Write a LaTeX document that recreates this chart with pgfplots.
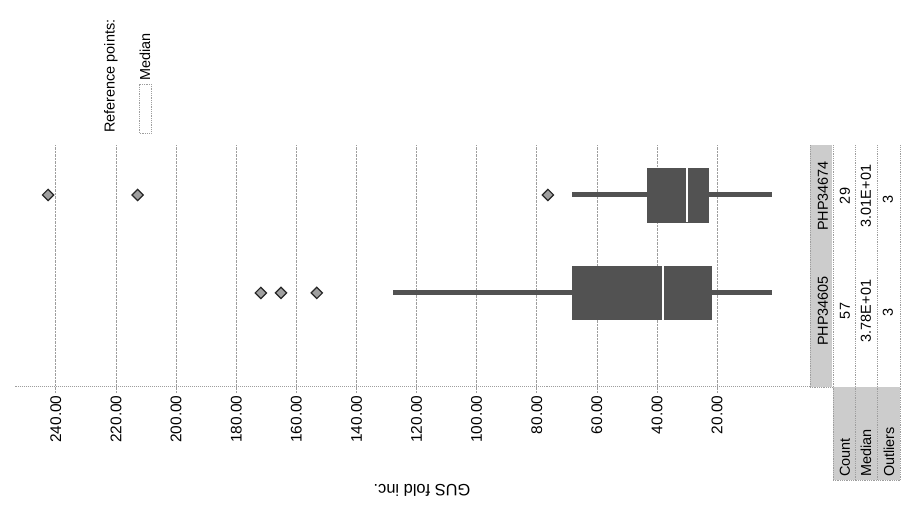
\documentclass[border=0pt]{standalone}
\usepackage{fontspec}
\setmainfont{Liberation Sans}
\usepackage{pgfplots}
\pgfplotsset{compat=1.18}
\usepgfplotslibrary{statistics}
\definecolor{boxc}{gray}{0.32}
\definecolor{gridc}{gray}{0.62}
\definecolor{shadec}{gray}{0.80}
\begin{document}
\begin{tikzpicture}[x=1bp,y=1bp,font=\fontsize{14.5}{17}\selectfont]
\path[use as bounding box] (0,0) rectangle (902,529);
\begin{axis}[
  at={(15bp,142bp)}, anchor=south west,
  scale only axis, width=795bp, height=242bp,
  x dir=reverse, xmin=-10.9, xmax=253.6,
  ymin=0.04, ymax=2.51,
  axis x line*=bottom, axis y line=none, ytick=\empty,
  axis line style={gridc, densely dotted, line width=1bp},
  xtick={20,40,...,240},
  tick align=outside, major tick length=5bp,
  tick style={gridc, densely dotted, line width=0.8bp},
  xmajorgrids, grid style={gridc, densely dotted, line width=0.8bp},
  xticklabel style={rotate=90, anchor=east, font=\fontsize{15.5}{18}\selectfont},
  /pgf/number format/.cd, fixed, fixed zerofill, precision=2, 1000 sep={}, assume math mode=true,
  /pgfplots/.cd,
  xlabel={GUS fold inc.},
  xlabel style={rotate=180, at={(axis description cs:0.512,-0.426)}, anchor=center, font=\fontsize{16.5}{19}\selectfont},
  boxplot/whisker extend=0,
  boxplot/every box/.style={draw=boxc, fill=boxc, line width=0.8bp},
  boxplot/every whisker/.style={draw=boxc, line width=5bp},
  boxplot/every median/.style={draw=white, line width=1.4bp},
  clip=false,
]
% PHP34674 (position 2)
\addplot[boxplot prepared={lower whisker=1.7, lower quartile=23.0, median=30.0,
  upper quartile=43.3, upper whisker=68.3, draw position=2, box extend=0.55}]
  coordinates {};
% PHP34605 (position 1)
\addplot[boxplot prepared={lower whisker=1.7, lower quartile=22.0, median=38.0,
  upper quartile=68.3, upper whisker=127.9, draw position=1, box extend=0.55}]
  coordinates {};
% outliers
\addplot[only marks, mark=square*, mark size=4bp,
  mark options={rotate=45, fill=gray!75, draw=black!85, line width=1.2bp}]
  coordinates {(242.6,2) (212.8,2) (76.3,2) (171.8,1) (165.1,1) (153.2,1)};
\end{axis}
% summary table
\fill[shadec] (810,142) rectangle (832,384);
\fill[shadec] (833,49) rectangle (900,142);
\draw[gridc, densely dotted, line width=0.8bp] (810,142) -- (832,142);
\foreach \xx in {810,833,855,877,900} {
  \draw[gridc, densely dotted, line width=0.8bp] (\xx,142) -- (\xx,384);
}
\foreach \xx in {833,855,877,900} {
  \draw[gridc, densely dotted, line width=0.8bp] (\xx,49) -- (\xx,142);
}
\draw[gridc, densely dotted, line width=0.8bp] (833,49) -- (900,49);
\node[rotate=90, inner sep=0] at (823,333) {PHP34674};
\node[rotate=90, inner sep=0] at (823,218) {PHP34605};
\node[rotate=90, inner sep=0] at (845,333) {29};
\node[rotate=90, inner sep=0] at (845,218) {57};
\node[rotate=90, inner sep=0] at (866,333) {3.01E+01};
\node[rotate=90, inner sep=0] at (866,218) {3.78E+01};
\node[rotate=90, inner sep=0] at (888,330) {3};
\node[rotate=90, inner sep=0] at (888,217) {3};
\node[rotate=90, anchor=west, inner sep=0] at (845,52) {Count};
\node[rotate=90, anchor=west, inner sep=0] at (866,52) {Median};
\node[rotate=90, anchor=west, inner sep=0] at (889,52) {Outliers};
% legend
\node[rotate=90, anchor=west, inner sep=0] at (111,396) {Reference points:};
\draw[gridc, densely dotted, line width=0.8bp, fill=white] (139,396) rectangle (151,445);
\node[rotate=90, anchor=west, inner sep=0] at (145,448) {Median};
\end{tikzpicture}
\end{document}
